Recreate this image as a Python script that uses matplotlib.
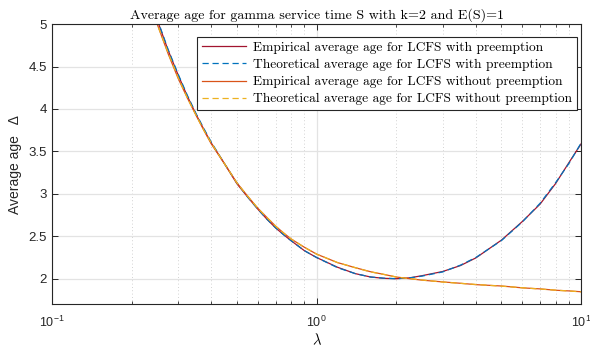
import matplotlib
matplotlib.use("Agg")
import matplotlib.pyplot as plt
from matplotlib.ticker import LogLocator, FixedLocator, NullFormatter

# arrival rate values (log axis)
lam = [0.1, 0.15, 0.2, 0.25, 0.275, 0.3, 0.325, 0.35, 0.375, 0.4, 0.45, 0.5,
       0.55, 0.6, 0.65, 0.7, 0.75, 0.8, 0.9, 1.0, 1.2, 1.4, 1.6, 1.8, 2.0,
       2.25, 2.5, 3.0, 3.5, 4.0, 5.0, 6.0, 7.0, 8.0, 9.0, 10.0]

# LCFS with preemption
theo_pre = [11.0, 7.52, 6.05, 5.06, 4.70, 4.41, 4.16, 3.95, 3.77, 3.61, 3.35,
            3.13, 2.96, 2.82, 2.70, 2.60, 2.52, 2.45, 2.33, 2.25, 2.13, 2.06,
            2.02, 2.006, 2.0, 2.01, 2.03, 2.08, 2.16, 2.25, 2.45, 2.67, 2.89,
            3.13, 3.36, 3.60]
emp_pre = [11.0, 7.50, 6.03, 5.05, 4.69, 4.40, 4.15, 3.94, 3.76, 3.60, 3.35,
           3.12, 2.96, 2.82, 2.70, 2.60, 2.52, 2.45, 2.33, 2.25, 2.135, 2.06,
           2.02, 2.004, 2.0, 2.01, 2.035, 2.085, 2.155, 2.245, 2.455, 2.675,
           2.88, 3.12, 3.37, 3.59]

# LCFS without preemption
theo_nopre = [10.9, 7.40, 5.95, 5.0, 4.66, 4.37, 4.13, 3.93, 3.75, 3.60, 3.35,
              3.13, 2.97, 2.83, 2.72, 2.62, 2.54, 2.47, 2.37, 2.29, 2.19, 2.13,
              2.08, 2.05, 2.02, 2.0, 1.985, 1.96, 1.945, 1.932, 1.912, 1.893,
              1.878, 1.865, 1.855, 1.845]
emp_nopre = [10.9, 7.41, 5.96, 5.0, 4.65, 4.36, 4.13, 3.93, 3.75, 3.59, 3.35,
             3.13, 2.97, 2.83, 2.72, 2.62, 2.54, 2.47, 2.37, 2.29, 2.19, 2.13,
             2.082, 2.05, 2.02, 2.0, 1.983, 1.962, 1.946, 1.93, 1.914, 1.892,
             1.88, 1.864, 1.856, 1.846]

labels = ["Empirical average age for LCFS with preemption",
          "Theoretical average age for LCFS with preemption",
          "Empirical average age for LCFS without preemption",
          "Theoretical average age for LCFS without preemption"]

plt.rcParams["mathtext.fontset"] = "custom"
plt.rcParams["mathtext.rm"] = "Liberation Sans"
plt.rcParams["mathtext.it"] = "Liberation Sans:italic"
plt.rcParams["font.family"] = "Liberation Sans"

fig = plt.figure(figsize=(5.9, 3.5), dpi=100)
ax = fig.add_axes([0.088, 0.131, 0.897, 0.800])

ax.plot(lam, emp_pre, color="#A2142F", lw=0.9, label=labels[0])
ax.plot(lam, theo_pre, color="#0072BD", lw=0.9, ls=(0, (5, 3)), label=labels[1])
ax.plot(lam, emp_nopre, color="#D95319", lw=0.9, label=labels[2])
ax.plot(lam, theo_nopre, color="#EDB120", lw=0.9, ls=(0, (5, 3)), label=labels[3])

ax.set_xscale("log")
ax.set_xlim(0.1, 10)
ax.set_ylim(1.7, 5)
ax.yaxis.set_major_locator(FixedLocator([2, 2.5, 3, 3.5, 4, 4.5, 5]))
ax.set_yticklabels(["2", "2.5", "3", "3.5", "4", "4.5", "5"])
ax.xaxis.set_minor_locator(LogLocator(base=10, subs=range(2, 10)))
ax.xaxis.set_minor_formatter(NullFormatter())

ax.grid(True, which="major", color="#E3E3E3", lw=0.9)
ax.grid(True, which="minor", axis="x", color="#C4C4C4", lw=0.6, ls=(0, (1, 3)))
ax.set_axisbelow(True)

ax.tick_params(which="both", direction="in", top=True, right=True,
               colors="#262626", labelsize=9.5)
ax.tick_params(which="major", length=4, width=0.7)
ax.tick_params(which="minor", length=2.5, width=0.6)
ax.tick_params(axis="x", pad=8, labelsize=9)
for s in ax.spines.values():
    s.set_color("#262626")
    s.set_linewidth(0.8)

ax.set_xlabel(r"$\lambda$", fontsize=10.5, math_fontfamily="cm", labelpad=1)
ax.set_ylabel("Average age   Δ", fontsize=10, color="#262626", labelpad=5)
ax.set_title("Average age for gamma service time S with k=2 and E(S)=1",
             family="cmr10", fontsize=10.1, pad=4)

leg = ax.legend(loc="upper right", bbox_to_anchor=(0.9915, 0.955),
                prop={"family": "cmr10", "size": 9.65}, frameon=True,
                fancybox=False, edgecolor="#262626", framealpha=1,
                handlelength=3.3, labelspacing=0.36, borderpad=0.35,
                handletextpad=0.5, borderaxespad=0)
leg.get_frame().set_linewidth(0.8)

fig.savefig("out.png", dpi=100)
